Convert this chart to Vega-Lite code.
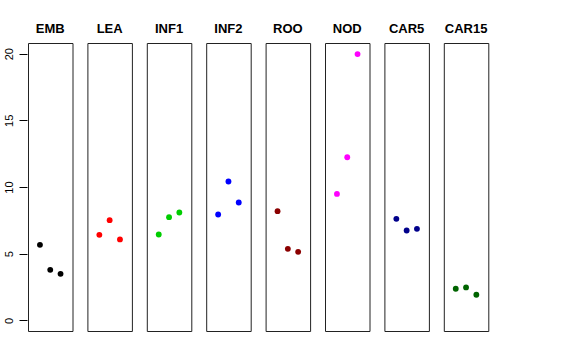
{
  "$schema": "https://vega.github.io/schema/vega-lite/v6.json",
  "padding": {"left": 2, "top": 23, "right": 5, "bottom": 5},
  "background": "white",
  "data": {"values": [
    {"tissue": "EMB", "rep": 1, "value": 5.66},
    {"tissue": "EMB", "rep": 2, "value": 3.79},
    {"tissue": "EMB", "rep": 3, "value": 3.49},
    {"tissue": "LEA", "rep": 1, "value": 6.41},
    {"tissue": "LEA", "rep": 2, "value": 7.51},
    {"tissue": "LEA", "rep": 3, "value": 6.07},
    {"tissue": "INF1", "rep": 1, "value": 6.44},
    {"tissue": "INF1", "rep": 2, "value": 7.74},
    {"tissue": "INF1", "rep": 3, "value": 8.09},
    {"tissue": "INF2", "rep": 1, "value": 7.94},
    {"tissue": "INF2", "rep": 2, "value": 10.41},
    {"tissue": "INF2", "rep": 3, "value": 8.84},
    {"tissue": "ROO", "rep": 1, "value": 8.19},
    {"tissue": "ROO", "rep": 2, "value": 5.36},
    {"tissue": "ROO", "rep": 3, "value": 5.14},
    {"tissue": "NOD", "rep": 1, "value": 9.48},
    {"tissue": "NOD", "rep": 2, "value": 12.23},
    {"tissue": "NOD", "rep": 3, "value": 19.97},
    {"tissue": "CAR5", "rep": 1, "value": 7.61},
    {"tissue": "CAR5", "rep": 2, "value": 6.74},
    {"tissue": "CAR5", "rep": 3, "value": 6.86},
    {"tissue": "CAR15", "rep": 1, "value": 2.37},
    {"tissue": "CAR15", "rep": 2, "value": 2.47},
    {"tissue": "CAR15", "rep": 3, "value": 1.92}
  ]},
  "facet": {
    "column": {
      "field": "tissue",
      "type": "nominal",
      "sort": ["EMB", "LEA", "INF1", "INF2", "ROO", "NOD", "CAR5", "CAR15"],
      "title": null,
      "header": {
        "labelFont": "Liberation Sans",
        "labelFontSize": 13,
        "labelFontWeight": "bold",
        "labelColor": "black",
        "labelPadding": 6
      }
    }
  },
  "spacing": 13.4,
  "spec": {
    "width": 44.5,
    "height": 288,
    "mark": {"type": "point", "filled": true, "opacity": 1, "size": 34},
    "encoding": {
      "x": {
        "field": "rep",
        "type": "quantitative",
        "scale": {"domain": [-0.16, 4.16], "nice": false, "zero": false},
        "axis": null
      },
      "y": {
        "field": "value",
        "type": "quantitative",
        "scale": {"domain": [-0.8, 20.8], "nice": false, "zero": false},
        "axis": {
          "title": null,
          "values": [0, 5, 10, 15, 20],
          "grid": false,
          "domain": false,
          "tickColor": "black",
          "tickSize": 8,
          "labelPadding": 5,
          "labelAngle": -90,
          "labelAlign": "center",
          "labelBaseline": "bottom",
          "labelFont": "Liberation Sans",
          "labelFontSize": 11,
          "labelColor": "black",
          "minExtent": 24,
          "maxExtent": 24
        }
      },
      "color": {
        "field": "tissue",
        "type": "nominal",
        "scale": {
          "domain": ["EMB", "LEA", "INF1", "INF2", "ROO", "NOD", "CAR5", "CAR15"],
          "range": ["#000000", "#FF0000", "#00CD00", "#0000FF", "#8B0000", "#FF00FF", "#00008B", "#006400"]
        },
        "legend": null
      }
    }
  },
  "config": {
    "view": {"stroke": "#222222", "strokeWidth": 1},
    "axis": {"ticks": true}
  }
}
